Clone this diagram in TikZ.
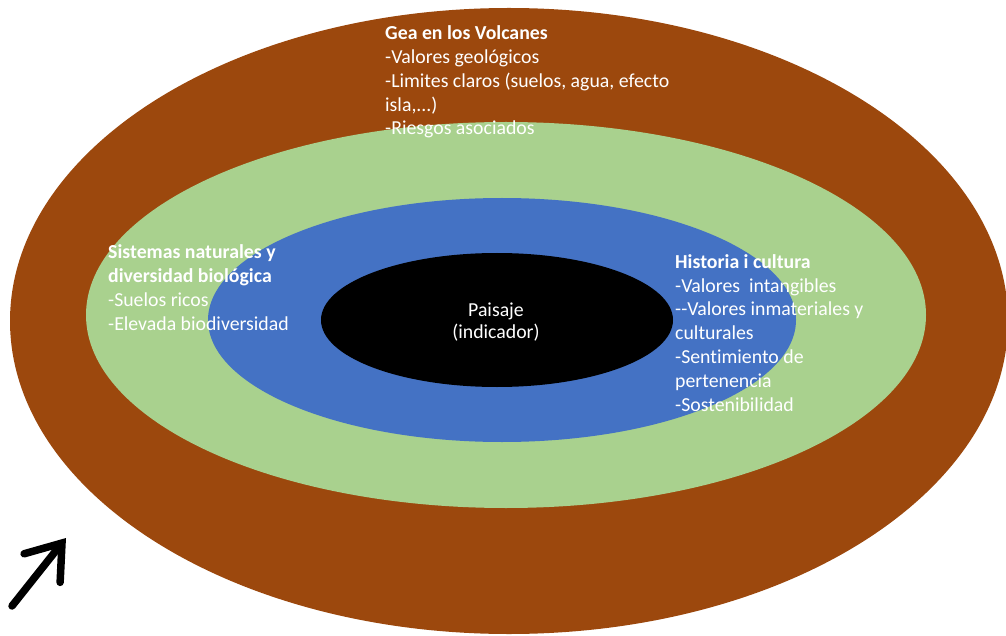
\documentclass[tikz,border=0pt]{standalone}
\usepackage{fontspec}
\setmainfont{Carlito}[Ligatures=NoCommon]
\usepackage{xcolor}
\usetikzlibrary{arrows.meta}

\definecolor{tierra}{HTML}{9C480D}
\definecolor{verde}{HTML}{A9D18E}
\definecolor{azul}{HTML}{4472C4}

\tikzset{
	texto/.style={text=white, align=left, anchor=base west, inner sep=0pt,
		font=\fontsize{19.8}{23.8}\selectfont},
	flecha/.style={line width=7.5pt, line cap=round,
		-{Straight Barb[length=32pt, width=46pt, line cap=round]}}
}

\begin{document}
\begin{tikzpicture}[x=1pt, y=-1pt]
	\useasboundingbox (0,0) rectangle (1006,636);
	
	% anillos (de fuera a dentro)
	\foreach \cx/\cy/\rx/\ry/\col in {509/321/499/313/tierra, 506/315/420/193/verde, 502/320/294/122/azul, 497/320/176/67/black}
	\fill[\col] (\cx,\cy) ellipse [x radius=\rx pt, y radius=\ry pt];
	
	% textos (anclados en la linea base de la ultima linea)
	\node[texto] (gea) at (385,135) {\textbf{Gea en los Volcanes}\\-Valores geológicos\\-Limites claros (suelos, agua, efecto\\isla,...)\\-Riesgos asociados};
	\node[texto] (sistemas) at (108,330) {\textbf{Sistemas naturales y}\\\textbf{diversidad biológica}\\-Suelos ricos\\-Elevada biodiversidad};
	\node[texto] (historia) at (675,411) {\textbf{Historia i cultura}\\-Valores\ \ intangibles\\-{}-Valores inmateriales y\\culturales\\-Sentimiento de\\pertenencia\\-Sostenibilidad};
	\node[text=white, align=center, font=\fontsize{19.8}{22}\selectfont] (paisaje) at (496,322) {Paisaje\\(indicador)};
	
	% flecha
	\coordinate (cola) at (12,606);
	\coordinate (punta) at (66,538);
	\draw[flecha] (cola) -- (punta);
	
\end{tikzpicture}
\end{document}
